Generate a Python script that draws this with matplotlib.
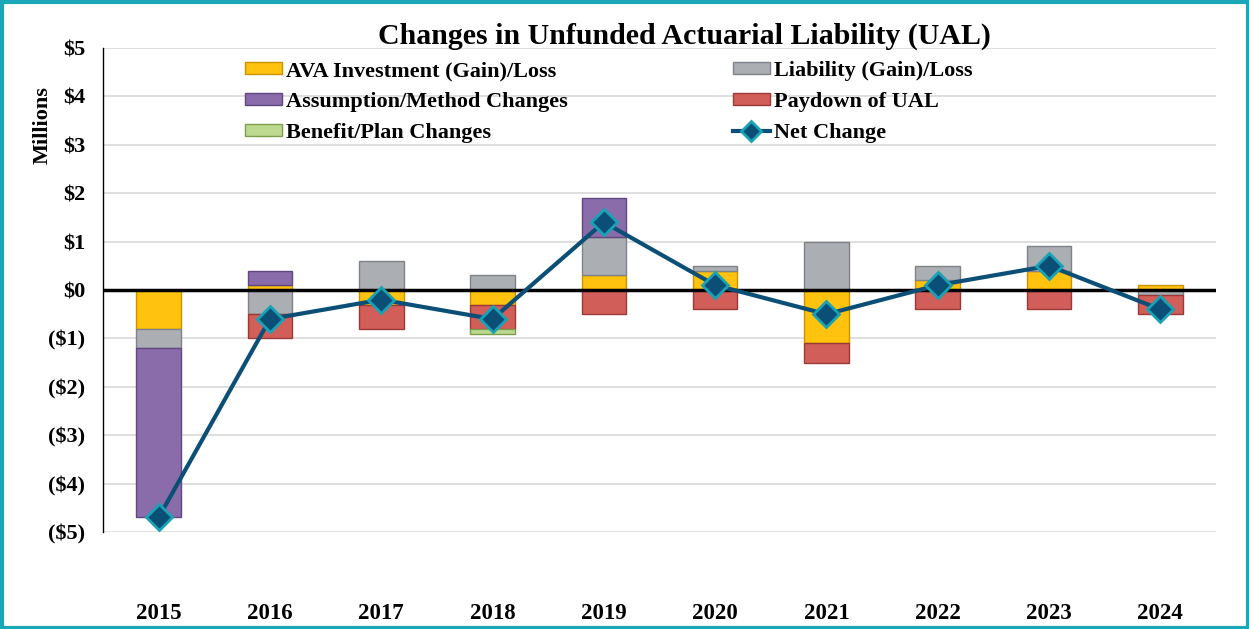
import matplotlib
matplotlib.use("Agg")
import matplotlib.pyplot as plt
import numpy as np
from matplotlib.patches import Rectangle, Patch
from matplotlib.lines import Line2D

years = ["2015", "2016", "2017", "2018", "2019", "2020", "2021", "2022", "2023", "2024"]
ava_investment = [-0.8, 0.1, -0.3, -0.3, 0.3, 0.4, -1.1, 0.2, 0.4, 0.1]
liability = [-0.4, -0.5, 0.6, 0.3, 0.8, 0.1, 1.0, 0.3, 0.5, -0.1]
assumption = [-3.5, 0.3, 0.0, 0.0, 0.8, 0.0, 0.0, 0.0, 0.0, 0.0]
paydown = [0.0, -0.5, -0.5, -0.5, -0.5, -0.4, -0.4, -0.4, -0.4, -0.4]
benefit = [0.0, 0.0, 0.0, -0.1, 0.0, 0.0, 0.0, 0.0, 0.0, 0.0]
net_change = [-4.7, -0.6, -0.2, -0.6, 1.4, 0.1, -0.5, 0.1, 0.5, -0.4]

series = [
    ("AVA Investment (Gain)/Loss", ava_investment, "#FFC20E", "#C99400"),
    ("Liability (Gain)/Loss", liability, "#ABAEB2", "#7F8387"),
    ("Assumption/Method Changes", assumption, "#8A6CAB", "#5F4780"),
    ("Paydown of UAL", paydown, "#D25E5A", "#9A3A37"),
    ("Benefit/Plan Changes", benefit, "#BCD98F", "#7F9E4D"),
]

W, H = 1249, 629
fig = plt.figure(figsize=(W / 100, H / 100), dpi=100)
serif = ["Liberation Serif", "DejaVu Serif"]

ax = fig.add_axes([103 / W, 1 - 532 / H, (1216 - 103) / W, (532 - 48) / H])
x = np.arange(len(years))
pos_bottom = np.zeros(len(years))
neg_bottom = np.zeros(len(years))
handles = {}
for name, vals, col, edge in series:
    v = np.array(vals, dtype=float)
    bottoms = np.where(v >= 0, pos_bottom, neg_bottom)
    nz = v != 0
    ax.bar(x[nz], v[nz], width=0.4, bottom=bottoms[nz], color=col, edgecolor=edge,
           linewidth=1.0, zorder=3)
    pos_bottom += np.where(v > 0, v, 0)
    neg_bottom += np.where(v < 0, v, 0)
    handles[name] = Patch(facecolor=col, edgecolor=edge, linewidth=1.0)

ax.plot(x, net_change, color="#0B4F76", linewidth=3, marker="D", markersize=13,
        markerfacecolor="#0B4F76", markeredgecolor="#17A3B5", markeredgewidth=2,
        zorder=5)
handles["Net Change"] = Line2D([], [], color="#0B4F76", linewidth=3, marker="D",
                               markersize=10, markerfacecolor="#0B4F76",
                               markeredgecolor="#17A3B5", markeredgewidth=2)

ax.set_xlim(-0.5, len(years) - 0.5)
ax.set_ylim(-5, 5)
yt = np.arange(-5, 6)
ax.set_yticks(yt)
ax.set_yticklabels([f"${v}" if v >= 0 else f"(${-v})" for v in yt])
ax.set_xticks(x)
ax.set_xticklabels(years)
ax.grid(axis="y", color="#D9D9D9", linewidth=1.2, zorder=0)
ax.axhline(0, color="black", linewidth=2.5, zorder=4)
for s in ["top", "right", "bottom"]:
    ax.spines[s].set_visible(False)
ax.spines["left"].set_color("black")
ax.spines["left"].set_linewidth(1.0)
ax.tick_params(axis="both", length=0)
ax.tick_params(axis="y", pad=13)
ax.tick_params(axis="x", pad=51)
for lab in ax.get_yticklabels():
    lab.set_fontfamily(serif)
    lab.set_fontweight("bold")
    lab.set_fontsize(16)
for lab in ax.get_xticklabels():
    lab.set_fontfamily(serif)
    lab.set_fontweight("bold")
    lab.set_fontsize(16.5)

fig.text(684 / W, 1 - 36 / H, "Changes in Unfunded Actuarial Liability (UAL)",
         ha="center", va="center", fontsize=21.5, fontweight="bold", family=serif)
fig.text(43 / W, 1 - 125 / H, "Millions", rotation=90, ha="center", va="center",
         fontsize=16, fontweight="bold", family=serif)

col1 = ["AVA Investment (Gain)/Loss", "Assumption/Method Changes", "Benefit/Plan Changes"]
col2 = ["Liability (Gain)/Loss", "Paydown of UAL", "Net Change"]
for names, xpos in [(col1, 245), (col2, 733)]:
    leg = fig.legend([handles[n] for n in names], names, loc="upper left",
                     bbox_to_anchor=(xpos / W, 1 - 61 / H), frameon=False,
                     prop={"family": serif, "weight": "bold", "size": 16},
                     handlelength=1.65, handleheight=0.5, handletextpad=0.2,
                     labelspacing=0.49, borderpad=0, borderaxespad=0)

fig.patches.append(Rectangle((1.5 / W, 1.5 / H), (W - 3) / W, (H - 3) / H,
                             transform=fig.transFigure, fill=False,
                             edgecolor="#1AA7B8", linewidth=3))

fig.savefig("out.png", dpi=100)
